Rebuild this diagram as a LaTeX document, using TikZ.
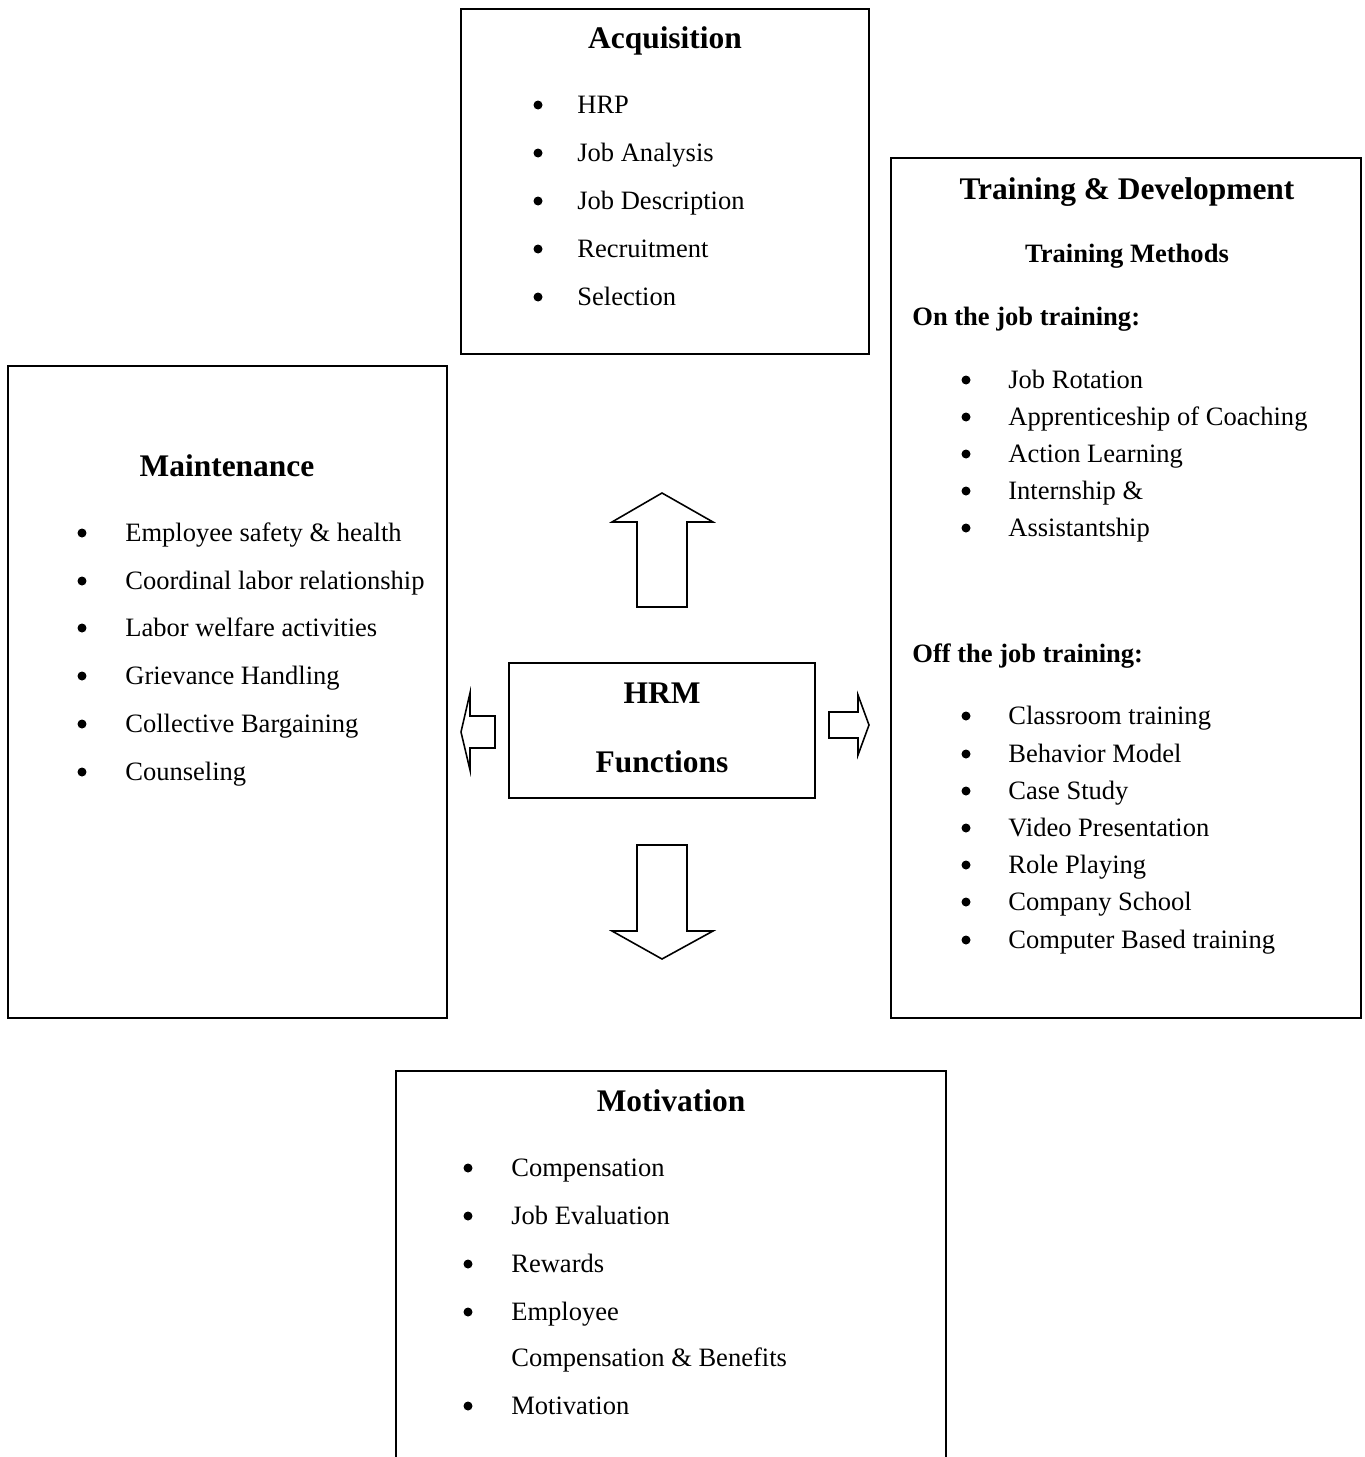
\documentclass[tikz,border=0pt]{standalone}
\usepackage{fontspec}
\setmainfont{Liberation Serif}
\tikzset{
	boxtitle/.style={inner sep=0, anchor=base, font=\fontsize{17.9}{21}\selectfont\bfseries},
	subhead/.style={inner sep=0, font=\fontsize{15.1}{18}\selectfont\bfseries},
	listitem/.style={inner sep=0, anchor=base west, font=\fontsize{15.1}{18}\selectfont},
	box/.style={line width=1.1pt},
	blockarrow/.style={line width=0.9pt, line join=miter}
}
\begin{document}
\begin{tikzpicture}[x=0.02cm, y=-0.02cm]
		\clip (0,0) rectangle (1365,1457);
		% Acquisition
		\draw [box] (461,9) rectangle (869,354);
		\node [boxtitle] (acq) at (665,49) {Acquisition};
		\node [listitem] (acq1) at (577,113) {HRP};
		\node [listitem] (acq2) at (577,161) {Job Analysis};
		\node [listitem] (acq3) at (577,209) {Job Description};
		\node [listitem] (acq4) at (577,257) {Recruitment};
		\node [listitem] (acq5) at (577,305) {Selection};
		\foreach \y in {105,153,201,249,297} \fill (538,\y) circle (0.09cm);
		% Training & Development
		\draw [box] (891,158) rectangle (1361,1018);
		\node [boxtitle] (trn) at (1127,199) {Training \& Development};
		\node [subhead, anchor=base] (meth) at (1127,262) {Training Methods};
		\node [subhead, anchor=base west] (onjob) at (912,325) {On the job training:};
		\node [listitem] (on1) at (1008,388) {Job Rotation};
		\node [listitem] (on2) at (1008,425) {Apprenticeship of Coaching};
		\node [listitem] (on3) at (1008,462) {Action Learning};
		\node [listitem] (on4) at (1008,499) {Internship \&};
		\node [listitem] (on5) at (1008,536) {Assistantship};
		\foreach \y in {380,417,454,491,528} \fill (966,\y) circle (0.09cm);
		\node [subhead, anchor=base west] (offjob) at (912,662) {Off the job training:};
		\node [listitem] (off1) at (1008,724) {Classroom training};
		\node [listitem] (off2) at (1008,762) {Behavior Model};
		\node [listitem] (off3) at (1008,799) {Case Study};
		\node [listitem] (off4) at (1008,836) {Video Presentation};
		\node [listitem] (off5) at (1008,873) {Role Playing};
		\node [listitem] (off6) at (1008,910) {Company School};
		\node [listitem] (off7) at (1008,948) {Computer Based training};
		\foreach \y in {716,754,791,828,865,902,940} \fill (966,\y) circle (0.09cm);
		% Maintenance
		\draw [box] (8,366) rectangle (447,1018);
		\node [boxtitle] (mnt) at (227,476) {Maintenance};
		\node [listitem] (mnt1) at (125,541) {Employee safety \& health};
		\node [listitem] (mnt2) at (125,589) {Coordinal labor relationship};
		\node [listitem] (mnt3) at (125,636) {Labor welfare activities};
		\node [listitem] (mnt4) at (125,684) {Grievance Handling};
		\node [listitem] (mnt5) at (125,732) {Collective Bargaining};
		\node [listitem] (mnt6) at (125,780) {Counseling};
		\foreach \y in {533,581,628,676,724,772} \fill (82,\y) circle (0.09cm);
		% HRM Functions
		\draw [box] (509,663) rectangle (815,798);
		\node [boxtitle] (hrm) at (662,703) {HRM};
		\node [boxtitle] (fun) at (662,772) {Functions};
		% block arrows
		\draw [blockarrow] (637,607) -- (637,522) -- (612,522) -- (662,493) -- (713,522) -- (687,522) -- (687,607) -- cycle;
		\draw [blockarrow] (637,845) -- (687,845) -- (687,931) -- (713,931) -- (662,959) -- (612,931) -- (637,931) -- cycle;
		\draw [blockarrow] (495,716) -- (470,716) -- (470,693) -- (461,732) -- (470,770) -- (470,748) -- (495,748) -- cycle;
		\draw [blockarrow] (829,712) -- (858,712) -- (858,695) -- (869,725) -- (858,755) -- (858,738) -- (829,738) -- cycle;
		% Motivation
		\draw [box] (396,1480) -- (396,1071) -- (946,1071) -- (946,1480);
		\node [boxtitle] (mot) at (671,1111) {Motivation};
		\node [listitem] (mot1) at (511,1176) {Compensation};
		\node [listitem] (mot2) at (511,1224) {Job Evaluation};
		\node [listitem] (mot3) at (511,1272) {Rewards};
		\node [listitem] (mot4) at (511,1320) {Employee};
		\node [listitem] (mot5) at (511,1366) {Compensation \& Benefits};
		\node [listitem] (mot6) at (511,1414) {Motivation};
		\foreach \y in {1168,1216,1264,1312,1406} \fill (468,\y) circle (0.09cm);
\end{tikzpicture}
\end{document}
